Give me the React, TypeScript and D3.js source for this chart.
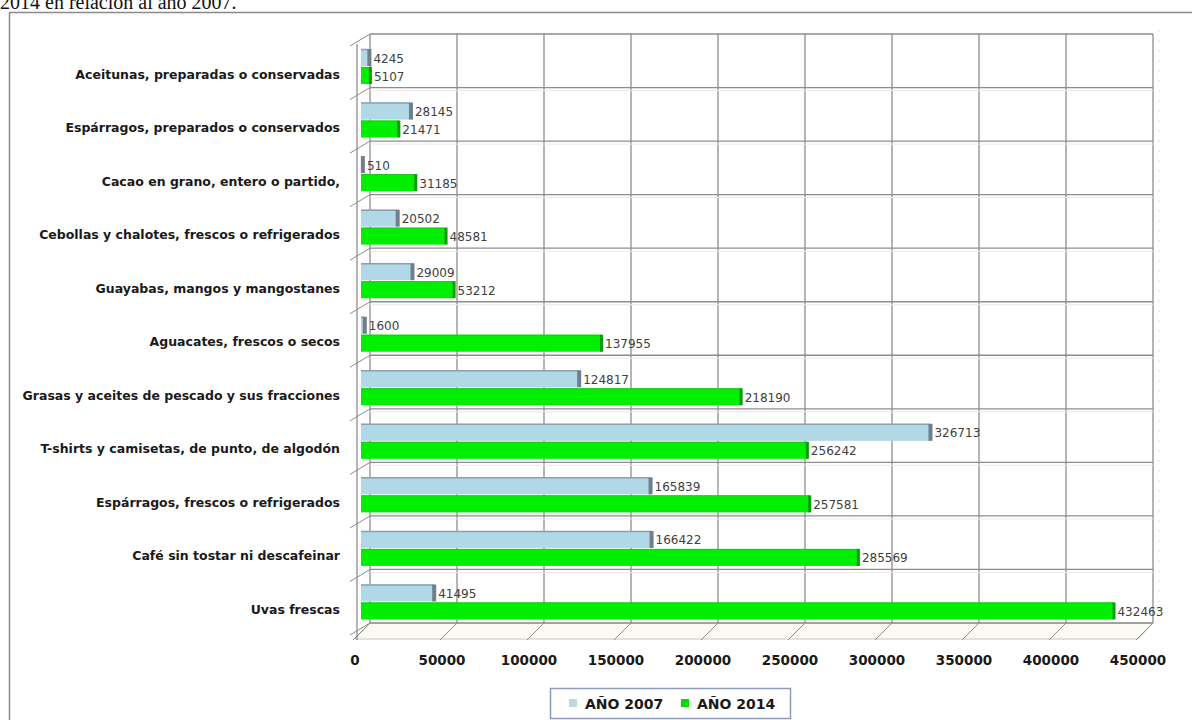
import React from 'react';
import * as d3 from 'd3';

const categories = [
  'Aceitunas, preparadas o conservadas',
  'Espárragos, preparados o conservados',
  'Cacao en grano, entero o partido,',
  'Cebollas y chalotes, frescos o refrigerados',
  'Guayabas, mangos y mangostanes',
  'Aguacates, frescos o secos',
  'Grasas y aceites de pescado y sus fracciones',
  'T-shirts y camisetas, de punto, de algodón',
  'Espárragos, frescos o refrigerados',
  'Café sin tostar ni descafeinar',
  'Uvas frescas',
];
const values2007 = [4245, 28145, 510, 20502, 29009, 1600, 124817, 326713, 165839, 166422, 41495];
const values2014 = [5107, 21471, 31185, 48581, 53212, 137955, 218190, 256242, 257581, 285569, 432463];
const xTicks = [0, 50000, 100000, 150000, 200000, 250000, 300000, 350000, 400000, 450000];
const seriesNames = ['AÑO 2007', 'AÑO 2014'];

const wall = { left: 370, right: 1153, top: 34, bottom: 623 };
const depth = { dx: -15, dy: 16 };

export default function App() {
  const x = d3.scaleLinear().domain([0, 450000]).range([wall.left, wall.right]);
  const y = d3.scaleBand<string>().domain(categories).range([wall.top, wall.bottom]).padding(0);
  const bw = y.bandwidth();
  const barOff = -9;
  const font = 'DejaVu Sans, Verdana, sans-serif';

  return (
    <svg width={1192} height={720} style={{ position: 'absolute', left: 0, top: 0, background: '#fff' }}>
      {/* page text cut at top */}
      <text x={0} y={9} fontFamily="Liberation Serif, Times New Roman, serif" fontSize={20} fill="#111">
        2014 en relación al año 2007.
      </text>
      {/* chart frame */}
      <rect x={9.5} y={12.5} width={1200} height={720} fill="#fff" stroke="#8a8a8a" strokeWidth={1.5} />

      {/* floor */}
      <polygon
        points={`${wall.left},${wall.bottom} ${wall.right},${wall.bottom} ${wall.right + depth.dx},${wall.bottom + depth.dy} ${wall.left + depth.dx},${wall.bottom + depth.dy}`}
        fill="#fbfaf2"
        stroke="#c9c4cc"
      />
      {/* back wall grid */}
      {xTicks.map(t => (
        <line key={'v' + t} x1={x(t)} x2={x(t)} y1={wall.top} y2={wall.bottom} stroke="#8d8d8d" strokeWidth={1.3} />
      ))}
      {d3.range(categories.length + 1).map(i => (
        <g key={'h' + i}>
          <line x1={wall.left} x2={wall.right} y1={wall.top + i * bw} y2={wall.top + i * bw} stroke="#8d8d8d" strokeWidth={1.3} />
          {i > 0 && i < categories.length && (
            <line x1={wall.left} x2={wall.right} y1={wall.top + i * bw + 3} y2={wall.top + i * bw + 3} stroke="#efe6ea" strokeWidth={1} />
          )}
        </g>
      ))}
      {/* floor ticks */}
      {xTicks.map(t => (
        <line key={'f' + t} x1={x(t)} y1={wall.bottom} x2={x(t) - 17} y2={wall.bottom + 17} stroke="#8d8d8d" strokeWidth={1} />
      ))}
      {/* right side wall hint */}
      <line x1={wall.right + 6} x2={wall.right + 6} y1={wall.top - 4} y2={wall.bottom - 8} stroke="#dddddd" strokeDasharray="2,8" />

      {/* left axis */}
      <line x1={357} x2={357} y1={wall.top + 10} y2={wall.bottom + 17} stroke="#8d8d8d" strokeWidth={1.3} />
      {d3.range(categories.length + 1).map(i => (
        <line key={'lt' + i} x1={350} y1={wall.top + i * bw + 12} x2={wall.left} y2={wall.top + i * bw} stroke="#8d8d8d" strokeWidth={1} />
      ))}

      {/* bars */}
      {categories.map((c, i) => {
        const top = (y(c) as number);
        const v1 = values2007[i];
        const v2 = values2014[i];
        const x0 = x(0) + barOff;
        const x1 = x(v1) + barOff;
        const x2 = x(v2) + barOff;
        const y1 = top + 15;
        const y2 = top + 33;
        const h = 17;
        return (
          <g key={c}>
            <rect x={x0} y={y1} width={Math.max(x1 - x0, 1)} height={h} fill="#b0d8e6" />
            <line x1={x0} x2={x1} y1={y1 + 0.5} y2={y1 + 0.5} stroke="#8aa0b2" strokeWidth={1.5} />
            <rect x={x1 - 1} y={y1} width={4} height={h} fill="#6f7f8c" />
            <rect x={x0} y={y2} width={Math.max(x2 - x0, 1)} height={h} fill="#00ee00" />
            <line x1={x0} x2={x2} y1={y2 + 0.5} y2={y2 + 0.5} stroke="#22c422" strokeWidth={1} />
            <rect x={x2 - 1} y={y2} width={3} height={h} fill="#0a9a0a" />
            <text x={x1 + 5} y={y1 + h / 2 + 1} dominantBaseline="central" fontFamily={font} fontSize={12} fill="#404040">
              {v1}
            </text>
            <text x={x2 + 4} y={y2 + h / 2 + 1} dominantBaseline="central" fontFamily={font} fontSize={12} fill="#404040">
              {v2}
            </text>
            <text x={340} y={top + 40} textAnchor="end" dominantBaseline="central" fontFamily={font} fontWeight="bold" fontSize={12.5} fill="#1a1a1a">
              {c}
            </text>
          </g>
        );
      })}

      {/* x axis labels (front edge) */}
      {xTicks.map(t => (
        <text key={'xl' + t} x={x(t) + depth.dx} y={660} textAnchor="middle" dominantBaseline="central" fontFamily={font} fontWeight="bold" fontSize={13.5} fill="#1a1a1a">
          {t}
        </text>
      ))}

      {/* legend */}
      <rect x={550.5} y={688.5} width={240} height={30} fill="#fff" stroke="#8c9cb8" strokeWidth={1.5} />
      <rect x={569} y={699} width={8} height={8} fill="#c4d6de" />
      <text x={585} y={703.5} dominantBaseline="central" fontFamily={font} fontWeight="bold" fontSize={14} fill="#1a1a1a">
        {seriesNames[0]}
      </text>
      <rect x={681} y={699} width={8} height={8} fill="#00dd00" />
      <text x={697} y={703.5} dominantBaseline="central" fontFamily={font} fontWeight="bold" fontSize={14} fill="#1a1a1a">
        {seriesNames[1]}
      </text>
    </svg>
  );
}
